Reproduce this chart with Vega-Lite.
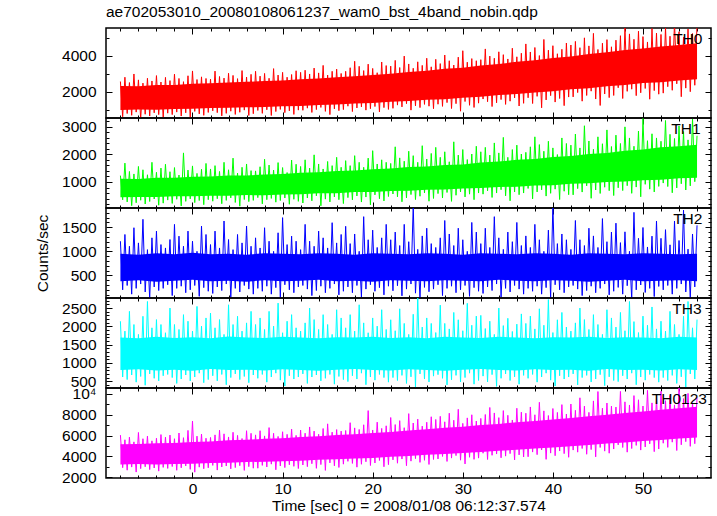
{
"$schema": "https://vega.github.io/schema/vega-lite/v6.json",
"padding": {"left": 34, "top": 5, "right": 5, "bottom": 5},
"bounds": "flush",
"spacing": 0,
"title": {"text": "ae702053010_20080108061237_wam0_bst_4band_nobin.qdp", "anchor": "start", "frame": "group", "fontSize": 15.5, "fontWeight": "normal", "font": "Liberation Sans", "color": "#000", "offset": 6},
"config": {
  "view": {"stroke": "#000", "strokeWidth": 1.5},
  "concat": {"spacing": 0},
  "axis": {"domain": false, "grid": false, "tickColor": "#000", "tickWidth": 1, "labelFont": "Liberation Sans", "labelFontSize": 15.5, "labelColor": "#000", "titleFont": "Liberation Sans", "titleFontSize": 15.5, "titleFontWeight": "normal", "titleColor": "#000", "labelFlush": false, "labelOverlap": false, "labelBound": false, "minExtent": 0}
},
"datasets": {
"lc": [
{"t":-8,"TH0":2570,"TH1":1230,"TH2":1210,"TH3":2140,"TH0123":6050},
{"t":-7.75,"TH0":600,"TH1":355,"TH2":200,"TH3":615,"TH0123":2920},
{"t":-7.5,"TH0":2810,"TH1":1680,"TH2":1350,"TH3":1870,"TH0123":5600},
{"t":-7.25,"TH0":780,"TH1":280,"TH2":290,"TH3":545,"TH0123":2680},
{"t":-7,"TH0":2510,"TH1":1380,"TH2":1105,"TH3":2410,"TH0123":5850},
{"t":-6.75,"TH0":680,"TH1":145,"TH2":110,"TH3":670,"TH0123":2980},
{"t":-6.5,"TH0":2990,"TH1":1290,"TH2":1490,"TH3":2050,"TH0123":5400},
{"t":-6.25,"TH0":860,"TH1":250,"TH2":230,"TH3":475,"TH0123":2500},
{"t":-6,"TH0":2660,"TH1":1560,"TH2":1175,"TH3":1780,"TH0123":6300},
{"t":-5.75,"TH0":500,"TH1":340,"TH2":320,"TH3":630,"TH0123":2830},
{"t":-5.5,"TH0":2480,"TH1":1440,"TH2":1665,"TH3":2275,"TH0123":5700},
{"t":-5.25,"TH0":740,"TH1":205,"TH2":155,"TH3":390,"TH0123":3010},
{"t":-5,"TH0":2750,"TH1":1260,"TH2":1035,"TH3":2680,"TH0123":5950},
{"t":-4.75,"TH0":640,"TH1":295,"TH2":20,"TH3":700,"TH0123":2740},
{"t":-4.5,"TH0":2600,"TH1":1710,"TH2":1280,"TH3":1960,"TH0123":5500},
{"t":-4.25,"TH0":820,"TH1":385,"TH2":260,"TH3":580,"TH0123":2890},
{"t":-4,"TH0":2900,"TH1":1350,"TH2":1420,"TH3":2185,"TH0123":5750},
{"t":-3.75,"TH0":720,"TH1":160,"TH2":185,"TH3":510,"TH0123":2590},
{"t":-3.5,"TH0":2540,"TH1":1500,"TH2":1140,"TH3":2050,"TH0123":6100},
{"t":-3.25,"TH0":580,"TH1":235,"TH2":230,"TH3":650,"TH0123":2950},
{"t":-3,"TH0":2800,"TH1":1640,"TH2":1070,"TH3":1825,"TH0123":5850},
{"t":-2.75,"TH0":800,"TH1":345,"TH2":305,"TH3":685,"TH0123":2850},
{"t":-2.5,"TH0":2620,"TH1":1370,"TH2":1245,"TH3":2500,"TH0123":6050},
{"t":-2.25,"TH0":720,"TH1":225,"TH2":80,"TH3":600,"TH0123":3030},
{"t":-2,"TH0":2980,"TH1":1520,"TH2":1560,"TH3":2050,"TH0123":5700},
{"t":-1.75,"TH0":860,"TH1":375,"TH2":230,"TH3":440,"TH0123":2670},
{"t":-1.5,"TH0":2740,"TH1":1250,"TH2":1315,"TH3":1915,"TH0123":6250},
{"t":-1.25,"TH0":640,"TH1":135,"TH2":275,"TH3":560,"TH0123":2910},
{"t":-1,"TH0":2560,"TH1":2050,"TH2":1105,"TH3":2320,"TH0123":5800},
{"t":-0.75,"TH0":820,"TH1":300,"TH2":140,"TH3":670,"TH0123":3090},
{"t":-0.5,"TH0":2890,"TH1":1430,"TH2":1420,"TH3":2140,"TH0123":6500},
{"t":-0.25,"TH0":540,"TH1":390,"TH2":200,"TH3":510,"TH0123":2760},
{"t":0,"TH0":3160,"TH1":1580,"TH2":1210,"TH3":1870,"TH0123":7400},
{"t":0.25,"TH0":900,"TH1":255,"TH2":290,"TH3":615,"TH0123":2490},
{"t":0.5,"TH0":2680,"TH1":1310,"TH2":1000,"TH3":2545,"TH0123":5950},
{"t":0.75,"TH0":760,"TH1":330,"TH2":65,"TH3":720,"TH0123":2970},
{"t":1,"TH0":2830,"TH1":1460,"TH2":1525,"TH3":2005,"TH0123":6150},
{"t":1.25,"TH0":680,"TH1":180,"TH2":245,"TH3":460,"TH0123":2820},
{"t":1.5,"TH0":2740,"TH1":1670,"TH2":1350,"TH3":2230,"TH0123":5750},
{"t":1.75,"TH0":840,"TH1":360,"TH2":170,"TH3":545,"TH0123":2910},
{"t":2,"TH0":2700,"TH1":1470,"TH2":1140,"TH3":2365,"TH0123":5820},
{"t":2.25,"TH0":930,"TH1":305,"TH2":125,"TH3":650,"TH0123":3140},
{"t":2.5,"TH0":3150,"TH1":1590,"TH2":1420,"TH3":1960,"TH0123":6070},
{"t":2.75,"TH0":830,"TH1":395,"TH2":260,"TH3":510,"TH0123":2690},
{"t":3,"TH0":2850,"TH1":1380,"TH2":1070,"TH3":2185,"TH0123":6520},
{"t":3.25,"TH0":650,"TH1":215,"TH2":185,"TH3":685,"TH0123":2990},
{"t":3.5,"TH0":2760,"TH1":1710,"TH2":1630,"TH3":1780,"TH0123":6170},
{"t":3.75,"TH0":790,"TH1":335,"TH2":320,"TH3":405,"TH0123":3080},
{"t":4,"TH0":3030,"TH1":1440,"TH2":1245,"TH3":2590,"TH0123":5870},
{"t":4.25,"TH0":910,"TH1":425,"TH2":50,"TH3":600,"TH0123":2810},
{"t":4.5,"TH0":2910,"TH1":1860,"TH2":1035,"TH3":2050,"TH0123":6320},
{"t":4.75,"TH0":730,"TH1":260,"TH2":230,"TH3":700,"TH0123":2930},
{"t":5,"TH0":2730,"TH1":1320,"TH2":1350,"TH3":2275,"TH0123":6020},
{"t":5.25,"TH0":850,"TH1":125,"TH2":155,"TH3":545,"TH0123":3110},
{"t":5.5,"TH0":3180,"TH1":1530,"TH2":1175,"TH3":1870,"TH0123":5720},
{"t":5.75,"TH0":970,"TH1":365,"TH2":290,"TH3":630,"TH0123":2660},
{"t":6,"TH0":2820,"TH1":1650,"TH2":1525,"TH3":2095,"TH0123":6470},
{"t":6.25,"TH0":670,"TH1":290,"TH2":215,"TH3":460,"TH0123":3020},
{"t":6.5,"TH0":2970,"TH1":1410,"TH2":1105,"TH3":2410,"TH0123":6220},
{"t":6.75,"TH0":770,"TH1":335,"TH2":110,"TH3":670,"TH0123":2870},
{"t":7,"TH0":3140,"TH1":1400,"TH2":1280,"TH3":2050,"TH0123":6070},
{"t":7.25,"TH0":950,"TH1":435,"TH2":230,"TH3":580,"TH0123":2870},
{"t":7.5,"TH0":2870,"TH1":1550,"TH2":1070,"TH3":2230,"TH0123":6470},
{"t":7.75,"TH0":790,"TH1":210,"TH2":170,"TH3":685,"TH0123":3140},
{"t":8,"TH0":3020,"TH1":1820,"TH2":1490,"TH3":1915,"TH0123":5970},
{"t":8.25,"TH0":990,"TH1":360,"TH2":275,"TH3":475,"TH0123":2990},
{"t":8.5,"TH0":2750,"TH1":1610,"TH2":1210,"TH3":2410,"TH0123":6770},
{"t":8.75,"TH0":670,"TH1":405,"TH2":110,"TH3":615,"TH0123":3260},
{"t":9,"TH0":3290,"TH1":1430,"TH2":1000,"TH3":2005,"TH0123":6220},
{"t":9.25,"TH0":890,"TH1":270,"TH2":245,"TH3":720,"TH0123":2720},
{"t":9.5,"TH0":2930,"TH1":1700,"TH2":1385,"TH3":2635,"TH0123":5920},
{"t":9.75,"TH0":1010,"TH1":330,"TH2":35,"TH3":530,"TH0123":3080},
{"t":10,"TH0":3080,"TH1":1520,"TH2":1700,"TH3":1825,"TH0123":6370},
{"t":10.25,"TH0":830,"TH1":420,"TH2":305,"TH3":370,"TH0123":2930},
{"t":10.5,"TH0":2810,"TH1":1340,"TH2":1140,"TH3":2140,"TH0123":6120},
{"t":10.75,"TH0":930,"TH1":195,"TH2":200,"TH3":650,"TH0123":3200},
{"t":11,"TH0":2960,"TH1":1790,"TH2":1315,"TH3":2320,"TH0123":6620},
{"t":11.25,"TH0":730,"TH1":375,"TH2":140,"TH3":560,"TH0123":3050},
{"t":11.5,"TH0":3170,"TH1":1640,"TH2":1210,"TH3":1960,"TH0123":6020},
{"t":11.75,"TH0":970,"TH1":300,"TH2":260,"TH3":615,"TH0123":2840},
{"t":12,"TH0":3080,"TH1":1560,"TH2":1035,"TH3":1870,"TH0123":6530},
{"t":12.25,"TH0":960,"TH1":240,"TH2":290,"TH3":700,"TH0123":3180},
{"t":12.5,"TH0":3200,"TH1":1800,"TH2":1560,"TH3":2095,"TH0123":6230},
{"t":12.75,"TH0":1080,"TH1":420,"TH2":215,"TH3":440,"TH0123":3020},
{"t":13,"TH0":2990,"TH1":1500,"TH2":1210,"TH3":2500,"TH0123":6830},
{"t":13.25,"TH0":840,"TH1":320,"TH2":80,"TH3":615,"TH0123":3300},
{"t":13.5,"TH0":3320,"TH1":1980,"TH2":1105,"TH3":2185,"TH0123":6430},
{"t":13.75,"TH0":1000,"TH1":500,"TH2":185,"TH3":670,"TH0123":2860},
{"t":14,"TH0":3050,"TH1":1650,"TH2":1420,"TH3":1915,"TH0123":6130},
{"t":14.25,"TH0":1120,"TH1":140,"TH2":275,"TH3":510,"TH0123":3220},
{"t":14.5,"TH0":3470,"TH1":1470,"TH2":1280,"TH3":2320,"TH0123":6680},
{"t":14.75,"TH0":900,"TH1":380,"TH2":140,"TH3":580,"TH0123":2660},
{"t":15,"TH0":2930,"TH1":1740,"TH2":1070,"TH3":2050,"TH0123":7130},
{"t":15.25,"TH0":720,"TH1":280,"TH2":230,"TH3":685,"TH0123":3380},
{"t":15.5,"TH0":3140,"TH1":1590,"TH2":1595,"TH3":1780,"TH0123":6330},
{"t":15.75,"TH0":1040,"TH1":460,"TH2":320,"TH3":420,"TH0123":3100},
{"t":16,"TH0":3260,"TH1":1890,"TH2":1175,"TH3":2455,"TH0123":6580},
{"t":16.25,"TH0":940,"TH1":360,"TH2":95,"TH3":630,"TH0123":2940},
{"t":16.5,"TH0":3020,"TH1":1530,"TH2":1350,"TH3":2230,"TH0123":6430},
{"t":16.75,"TH0":1000,"TH1":220,"TH2":170,"TH3":545,"TH0123":3260},
{"t":17,"TH0":3140,"TH1":1770,"TH2":1520,"TH3":1960,"TH0123":6490},
{"t":17.25,"TH0":1190,"TH1":435,"TH2":260,"TH3":490,"TH0123":3530},
{"t":17.5,"TH0":3340,"TH1":1590,"TH2":1160,"TH3":2320,"TH0123":7240},
{"t":17.75,"TH0":890,"TH1":355,"TH2":140,"TH3":650,"TH0123":3330},
{"t":18,"TH0":3700,"TH1":1950,"TH2":1360,"TH3":1870,"TH0123":6740},
{"t":18.25,"TH0":1090,"TH1":495,"TH2":290,"TH3":560,"TH0123":2970},
{"t":18.5,"TH0":3420,"TH1":1710,"TH2":1000,"TH3":2590,"TH0123":6590},
{"t":18.75,"TH0":1150,"TH1":275,"TH2":50,"TH3":720,"TH0123":3250},
{"t":19,"TH0":3180,"TH1":1530,"TH2":1720,"TH3":2095,"TH0123":7040},
{"t":19.25,"TH0":970,"TH1":455,"TH2":215,"TH3":405,"TH0123":3490},
{"t":19.5,"TH0":3540,"TH1":1860,"TH2":1240,"TH3":1825,"TH0123":8400},
{"t":19.75,"TH0":1050,"TH1":175,"TH2":305,"TH3":615,"TH0123":3130},
{"t":20,"TH0":3300,"TH1":2130,"TH2":1440,"TH3":2230,"TH0123":6540},
{"t":20.25,"TH0":1170,"TH1":535,"TH2":170,"TH3":530,"TH0123":3370},
{"t":20.5,"TH0":3060,"TH1":1650,"TH2":1080,"TH3":2005,"TH0123":7290},
{"t":20.75,"TH0":870,"TH1":395,"TH2":245,"TH3":685,"TH0123":3610},
{"t":21,"TH0":3660,"TH1":1800,"TH2":1280,"TH3":2455,"TH0123":6690},
{"t":21.25,"TH0":1110,"TH1":315,"TH2":95,"TH3":600,"TH0123":3010},
{"t":21.5,"TH0":3460,"TH1":1710,"TH2":1560,"TH3":1915,"TH0123":6940},
{"t":21.75,"TH0":1010,"TH1":475,"TH2":275,"TH3":475,"TH0123":3210},
{"t":22,"TH0":3430,"TH1":1670,"TH2":1240,"TH3":2180,"TH0123":7735},
{"t":22.25,"TH0":1070,"TH1":565,"TH2":180,"TH3":600,"TH0123":3670},
{"t":22.5,"TH0":3750,"TH1":2270,"TH2":1400,"TH3":1880,"TH0123":7060},
{"t":22.75,"TH0":1250,"TH1":465,"TH2":285,"TH3":520,"TH0123":3350},
{"t":23,"TH0":3350,"TH1":1870,"TH2":1120,"TH3":2480,"TH0123":7435},
{"t":23.25,"TH0":1150,"TH1":285,"TH2":75,"TH3":660,"TH0123":3750},
{"t":23.5,"TH0":3990,"TH1":1750,"TH2":1560,"TH3":2080,"TH0123":6760},
{"t":23.75,"TH0":1330,"TH1":425,"TH2":215,"TH3":440,"TH0123":3110},
{"t":24,"TH0":3550,"TH1":2110,"TH2":1200,"TH3":1780,"TH0123":8110},
{"t":24.25,"TH0":970,"TH1":545,"TH2":320,"TH3":620,"TH0123":3550},
{"t":24.5,"TH0":3310,"TH1":1950,"TH2":1950,"TH3":2330,"TH0123":7210},
{"t":24.75,"TH0":1210,"TH1":365,"TH2":130,"TH3":340,"TH0123":3790},
{"t":25,"TH0":3670,"TH1":1710,"TH2":1040,"TH3":2780,"TH0123":7585},
{"t":25.25,"TH0":1110,"TH1":485,"TH2":10,"TH3":700,"TH0123":3430},
{"t":25.5,"TH0":3470,"TH1":2310,"TH2":1320,"TH3":1980,"TH0123":6910},
{"t":25.75,"TH0":1290,"TH1":605,"TH2":250,"TH3":560,"TH0123":3630},
{"t":26,"TH0":3870,"TH1":1830,"TH2":1480,"TH3":2230,"TH0123":7285},
{"t":26.25,"TH0":1190,"TH1":305,"TH2":160,"TH3":480,"TH0123":3230},
{"t":26.5,"TH0":3390,"TH1":2030,"TH2":1160,"TH3":2080,"TH0123":7810},
{"t":26.75,"TH0":1050,"TH1":405,"TH2":215,"TH3":640,"TH0123":3710},
{"t":27,"TH0":3810,"TH1":2250,"TH2":1080,"TH3":1830,"TH0123":7550},
{"t":27.25,"TH0":1300,"TH1":580,"TH2":305,"TH3":680,"TH0123":3760},
{"t":27.5,"TH0":3570,"TH1":1890,"TH2":1280,"TH3":2580,"TH0123":7850},
{"t":27.75,"TH0":1180,"TH1":420,"TH2":80,"TH3":580,"TH0123":4000},
{"t":28,"TH0":4050,"TH1":2090,"TH2":1640,"TH3":2080,"TH0123":7325},
{"t":28.25,"TH0":1390,"TH1":620,"TH2":230,"TH3":400,"TH0123":3520},
{"t":28.5,"TH0":3730,"TH1":1730,"TH2":1360,"TH3":1930,"TH0123":8150},
{"t":28.75,"TH0":1060,"TH1":300,"TH2":275,"TH3":540,"TH0123":3840},
{"t":29,"TH0":3490,"TH1":2450,"TH2":1120,"TH3":2380,"TH0123":7475},
{"t":29.25,"TH0":1330,"TH1":520,"TH2":140,"TH3":660,"TH0123":4080},
{"t":29.5,"TH0":3930,"TH1":1970,"TH2":1480,"TH3":2180,"TH0123":8525},
{"t":29.75,"TH0":910,"TH1":640,"TH2":200,"TH3":480,"TH0123":3640},
{"t":30,"TH0":4290,"TH1":2170,"TH2":1240,"TH3":1880,"TH0123":7175},
{"t":30.25,"TH0":1450,"TH1":460,"TH2":290,"TH3":600,"TH0123":3280},
{"t":30.5,"TH0":3650,"TH1":1810,"TH2":1000,"TH3":2630,"TH0123":7700},
{"t":30.75,"TH0":1240,"TH1":560,"TH2":65,"TH3":720,"TH0123":3920},
{"t":31,"TH0":3850,"TH1":2010,"TH2":1600,"TH3":2030,"TH0123":8000},
{"t":31.25,"TH0":1120,"TH1":360,"TH2":245,"TH3":420,"TH0123":3720},
{"t":31.5,"TH0":3730,"TH1":2290,"TH2":1400,"TH3":2280,"TH0123":7400},
{"t":31.75,"TH0":1360,"TH1":600,"TH2":170,"TH3":520,"TH0123":3840},
{"t":32,"TH0":3790,"TH1":2090,"TH2":1160,"TH3":2300,"TH0123":7650},
{"t":32.25,"TH0":1590,"TH1":560,"TH2":125,"TH3":640,"TH0123":4310},
{"t":32.5,"TH0":4390,"TH1":2250,"TH2":1480,"TH3":1940,"TH0123":8025},
{"t":32.75,"TH0":1440,"TH1":680,"TH2":260,"TH3":480,"TH0123":3710},
{"t":33,"TH0":3990,"TH1":1970,"TH2":1080,"TH3":2140,"TH0123":8700},
{"t":33.25,"TH0":1170,"TH1":440,"TH2":185,"TH3":680,"TH0123":4110},
{"t":33.5,"TH0":3870,"TH1":2410,"TH2":1720,"TH3":1780,"TH0123":8175},
{"t":33.75,"TH0":1380,"TH1":600,"TH2":320,"TH3":360,"TH0123":4230},
{"t":34,"TH0":4230,"TH1":2050,"TH2":1280,"TH3":2500,"TH0123":7725},
{"t":34.25,"TH0":1560,"TH1":720,"TH2":50,"TH3":580,"TH0123":3870},
{"t":34.5,"TH0":4070,"TH1":2610,"TH2":1040,"TH3":2020,"TH0123":8400},
{"t":34.75,"TH0":1290,"TH1":500,"TH2":230,"TH3":700,"TH0123":4030},
{"t":35,"TH0":3830,"TH1":1890,"TH2":1400,"TH3":2220,"TH0123":7950},
{"t":35.25,"TH0":1470,"TH1":320,"TH2":155,"TH3":520,"TH0123":4270},
{"t":35.5,"TH0":4430,"TH1":2170,"TH2":1200,"TH3":1860,"TH0123":7500},
{"t":35.75,"TH0":1650,"TH1":640,"TH2":290,"TH3":620,"TH0123":3670},
{"t":36,"TH0":3950,"TH1":2330,"TH2":1600,"TH3":2060,"TH0123":8625},
{"t":36.25,"TH0":1200,"TH1":540,"TH2":215,"TH3":420,"TH0123":4150},
{"t":36.5,"TH0":4150,"TH1":2010,"TH2":1120,"TH3":2340,"TH0123":8250},
{"t":36.75,"TH0":1350,"TH1":600,"TH2":110,"TH3":660,"TH0123":3950},
{"t":37,"TH0":4670,"TH1":2070,"TH2":1320,"TH3":2080,"TH0123":8150},
{"t":37.25,"TH0":1660,"TH1":765,"TH2":230,"TH3":580,"TH0123":3970},
{"t":37.5,"TH0":4220,"TH1":2270,"TH2":1080,"TH3":2280,"TH0123":8750},
{"t":37.75,"TH0":1340,"TH1":390,"TH2":170,"TH3":685,"TH0123":4420},
{"t":38,"TH0":4470,"TH1":2630,"TH2":1560,"TH3":1930,"TH0123":8000},
{"t":38.25,"TH0":1740,"TH1":640,"TH2":275,"TH3":475,"TH0123":4170},
{"t":38.5,"TH0":4020,"TH1":2350,"TH2":1240,"TH3":2480,"TH0123":9200},
{"t":38.75,"TH0":1100,"TH1":715,"TH2":110,"TH3":615,"TH0123":4620},
{"t":39,"TH0":4920,"TH1":2110,"TH2":1000,"TH3":2030,"TH0123":8375},
{"t":39.25,"TH0":1540,"TH1":490,"TH2":245,"TH3":720,"TH0123":3720},
{"t":39.5,"TH0":4320,"TH1":2470,"TH2":1440,"TH3":2730,"TH0123":7925},
{"t":39.75,"TH0":1780,"TH1":590,"TH2":35,"TH3":530,"TH0123":4320},
{"t":40,"TH0":4570,"TH1":2230,"TH2":1950,"TH3":1830,"TH0123":8600},
{"t":40.25,"TH0":1420,"TH1":740,"TH2":305,"TH3":370,"TH0123":4070},
{"t":40.5,"TH0":4120,"TH1":1990,"TH2":1160,"TH3":2180,"TH0123":8225},
{"t":40.75,"TH0":1620,"TH1":365,"TH2":200,"TH3":650,"TH0123":4520},
{"t":41,"TH0":4370,"TH1":2590,"TH2":1360,"TH3":2380,"TH0123":8975},
{"t":41.25,"TH0":1220,"TH1":665,"TH2":140,"TH3":560,"TH0123":4270},
{"t":41.5,"TH0":4720,"TH1":2390,"TH2":1240,"TH3":1980,"TH0123":8075},
{"t":41.75,"TH0":1700,"TH1":540,"TH2":260,"TH3":615,"TH0123":3920},
{"t":42,"TH0":4610,"TH1":2330,"TH2":1040,"TH3":1870,"TH0123":9030},
{"t":42.25,"TH0":1710,"TH1":535,"TH2":290,"TH3":700,"TH0123":4610},
{"t":42.5,"TH0":4810,"TH1":2730,"TH2":1640,"TH3":2095,"TH0123":8430},
{"t":42.75,"TH0":1950,"TH1":760,"TH2":215,"TH3":400,"TH0123":4410},
{"t":43,"TH0":4460,"TH1":2230,"TH2":1240,"TH3":2500,"TH0123":9630},
{"t":43.25,"TH0":1470,"TH1":635,"TH2":80,"TH3":600,"TH0123":4760},
{"t":43.5,"TH0":5010,"TH1":3030,"TH2":1120,"TH3":2185,"TH0123":8830},
{"t":43.75,"TH0":1790,"TH1":860,"TH2":185,"TH3":660,"TH0123":4210},
{"t":44,"TH0":4560,"TH1":2480,"TH2":1480,"TH3":1915,"TH0123":8230},
{"t":44.25,"TH0":2030,"TH1":410,"TH2":275,"TH3":480,"TH0123":4660},
{"t":44.5,"TH0":5260,"TH1":2180,"TH2":1320,"TH3":2320,"TH0123":9330},
{"t":44.75,"TH0":1590,"TH1":710,"TH2":140,"TH3":560,"TH0123":3960},
{"t":45,"TH0":4360,"TH1":2630,"TH2":1080,"TH3":2050,"TH0123":10230},
{"t":45.25,"TH0":1230,"TH1":585,"TH2":230,"TH3":680,"TH0123":4860},
{"t":45.5,"TH0":4710,"TH1":2380,"TH2":1680,"TH3":1780,"TH0123":8630},
{"t":45.75,"TH0":1870,"TH1":810,"TH2":320,"TH3":380,"TH0123":4510},
{"t":46,"TH0":4910,"TH1":2880,"TH2":1200,"TH3":2455,"TH0123":9130},
{"t":46.25,"TH0":1670,"TH1":685,"TH2":95,"TH3":620,"TH0123":4310},
{"t":46.5,"TH0":4510,"TH1":2280,"TH2":1400,"TH3":2230,"TH0123":8830},
{"t":46.75,"TH0":1790,"TH1":510,"TH2":170,"TH3":520,"TH0123":4710},
{"t":47,"TH0":4880,"TH1":2690,"TH2":1585,"TH3":1980,"TH0123":8740},
{"t":47.25,"TH0":2220,"TH1":790,"TH2":250,"TH3":490,"TH0123":5110},
{"t":47.5,"TH0":5130,"TH1":2390,"TH2":1180,"TH3":2380,"TH0123":10240},
{"t":47.75,"TH0":1620,"TH1":690,"TH2":110,"TH3":650,"TH0123":4860},
{"t":48,"TH0":5580,"TH1":2990,"TH2":1405,"TH3":1880,"TH0123":9240},
{"t":48.25,"TH0":2020,"TH1":865,"TH2":285,"TH3":560,"TH0123":4410},
{"t":48.5,"TH0":5230,"TH1":2590,"TH2":1000,"TH3":2680,"TH0123":8940},
{"t":48.75,"TH0":2140,"TH1":590,"TH2":5,"TH3":720,"TH0123":4760},
{"t":49,"TH0":4930,"TH1":2290,"TH2":1810,"TH3":2130,"TH0123":9840},
{"t":49.25,"TH0":1780,"TH1":815,"TH2":200,"TH3":405,"TH0123":5060},
{"t":49.5,"TH0":5380,"TH1":2840,"TH2":1270,"TH3":1830,"TH0123":9440},
{"t":49.75,"TH0":1940,"TH1":465,"TH2":300,"TH3":615,"TH0123":4610},
{"t":50,"TH0":5080,"TH1":3290,"TH2":1495,"TH3":2280,"TH0123":8840},
{"t":50.25,"TH0":2180,"TH1":915,"TH2":145,"TH3":530,"TH0123":4910},
{"t":50.5,"TH0":4780,"TH1":2490,"TH2":1090,"TH3":2030,"TH0123":10340},
{"t":50.75,"TH0":1580,"TH1":740,"TH2":230,"TH3":685,"TH0123":5210},
{"t":51,"TH0":5530,"TH1":2740,"TH2":1315,"TH3":2530,"TH0123":9140},
{"t":51.25,"TH0":2060,"TH1":640,"TH2":60,"TH3":600,"TH0123":4460},
{"t":51.5,"TH0":5280,"TH1":2590,"TH2":1630,"TH3":1930,"TH0123":9640},
{"t":51.75,"TH0":1860,"TH1":840,"TH2":270,"TH3":475,"TH0123":4710},
{"t":52,"TH0":5200,"TH1":2470,"TH2":1270,"TH3":2140,"TH0123":10250},
{"t":52.25,"TH0":1920,"TH1":960,"TH2":200,"TH3":600,"TH0123":5270},
{"t":52.5,"TH0":5600,"TH1":3220,"TH2":1450,"TH3":1870,"TH0123":9350},
{"t":52.75,"TH0":2280,"TH1":835,"TH2":290,"TH3":520,"TH0123":4870},
{"t":53,"TH0":5100,"TH1":2720,"TH2":1135,"TH3":2410,"TH0123":9850},
{"t":53.25,"TH0":2080,"TH1":610,"TH2":110,"TH3":660,"TH0123":5370},
{"t":53.5,"TH0":5900,"TH1":2570,"TH2":1630,"TH3":2050,"TH0123":8950},
{"t":53.75,"TH0":2440,"TH1":785,"TH2":230,"TH3":440,"TH0123":4570},
{"t":54,"TH0":5350,"TH1":3020,"TH2":1225,"TH3":1780,"TH0123":10750},
{"t":54.25,"TH0":1720,"TH1":935,"TH2":320,"TH3":620,"TH0123":5120},
{"t":54.5,"TH0":5050,"TH1":2820,"TH2":1855,"TH3":2275,"TH0123":9550},
{"t":54.75,"TH0":2200,"TH1":710,"TH2":155,"TH3":340,"TH0123":5420},
{"t":55,"TH0":5500,"TH1":2520,"TH2":1045,"TH3":2680,"TH0123":10050},
{"t":55.25,"TH0":2000,"TH1":860,"TH2":20,"TH3":700,"TH0123":4970},
{"t":55.5,"TH0":5250,"TH1":3270,"TH2":1360,"TH3":1960,"TH0123":9150},
{"t":55.75,"TH0":2360,"TH1":1010,"TH2":260,"TH3":560,"TH0123":5220},
{"t":56,"TH0":5750,"TH1":2670,"TH2":1540,"TH3":2185,"TH0123":9650}
],
"band": [
{"t":-8,"TH0lo":980,"TH0hi":2320,"TH1lo":445,"TH1hi":1115,"TH2lo":380,"TH2hi":950,"TH3lo":805,"TH3hi":1695,"TH0123lo":3235,"TH0123hi":5165},
{"t":-6,"TH0lo":1000,"TH0hi":2310,"TH1lo":460,"TH1hi":1110,"TH2lo":400,"TH2hi":930,"TH3lo":825,"TH3hi":1675,"TH0123lo":3265,"TH0123hi":5205},
{"t":-4,"TH0lo":990,"TH0hi":2370,"TH1lo":455,"TH1hi":1155,"TH2lo":370,"TH2hi":960,"TH3lo":795,"TH3hi":1715,"TH0123lo":3225,"TH0123hi":5255},
{"t":-2,"TH0lo":1040,"TH0hi":2380,"TH1lo":485,"TH1hi":1155,"TH2lo":390,"TH2hi":940,"TH3lo":815,"TH3hi":1685,"TH0123lo":3280,"TH0123hi":5280},
{"t":0,"TH0lo":1050,"TH0hi":2450,"TH1lo":480,"TH1hi":1190,"TH2lo":410,"TH2hi":970,"TH3lo":785,"TH3hi":1705,"TH0123lo":3310,"TH0123hi":5390},
{"t":2,"TH0lo":1090,"TH0hi":2470,"TH1lo":505,"TH1hi":1195,"TH2lo":380,"TH2hi":940,"TH3lo":835,"TH3hi":1675,"TH0123lo":3375,"TH0123hi":5445},
{"t":4,"TH0lo":1100,"TH0hi":2520,"TH1lo":500,"TH1hi":1230,"TH2lo":390,"TH2hi":950,"TH3lo":805,"TH3hi":1725,"TH0123lo":3395,"TH0123hi":5545},
{"t":6,"TH0lo":1130,"TH0hi":2550,"TH1lo":525,"TH1hi":1235,"TH2lo":370,"TH2hi":930,"TH3lo":815,"TH3hi":1695,"TH0123lo":3465,"TH0123hi":5595},
{"t":8,"TH0lo":1140,"TH0hi":2600,"TH1lo":520,"TH1hi":1270,"TH2lo":400,"TH2hi":960,"TH3lo":795,"TH3hi":1685,"TH0123lo":3490,"TH0123hi":5690},
{"t":10,"TH0lo":1180,"TH0hi":2620,"TH1lo":550,"TH1hi":1290,"TH2lo":380,"TH2hi":950,"TH3lo":825,"TH3hi":1715,"TH0123lo":3550,"TH0123hi":5750},
{"t":12,"TH0lo":1200,"TH0hi":2700,"TH1lo":555,"TH1hi":1335,"TH2lo":390,"TH2hi":940,"TH3lo":805,"TH3hi":1695,"TH0123lo":3595,"TH0123hi":5865},
{"t":14,"TH0lo":1260,"TH0hi":2740,"TH1lo":590,"TH1hi":1350,"TH2lo":410,"TH2hi":960,"TH3lo":785,"TH3hi":1675,"TH0123lo":3675,"TH0123hi":5935},
{"t":16,"TH0lo":1290,"TH0hi":2810,"TH1lo":595,"TH1hi":1395,"TH2lo":380,"TH2hi":950,"TH3lo":815,"TH3hi":1705,"TH0123lo":3720,"TH0123hi":6060},
{"t":18,"TH0lo":1340,"TH0hi":2860,"TH1lo":635,"TH1hi":1415,"TH2lo":390,"TH2hi":930,"TH3lo":835,"TH3hi":1695,"TH0123lo":3810,"TH0123hi":6130},
{"t":20,"TH0lo":1370,"TH0hi":2930,"TH1lo":640,"TH1hi":1460,"TH2lo":370,"TH2hi":960,"TH3lo":805,"TH3hi":1715,"TH0123lo":3860,"TH0123hi":6240},
{"t":22,"TH0lo":1440,"TH0hi":3000,"TH1lo":675,"TH1hi":1485,"TH2lo":400,"TH2hi":950,"TH3lo":795,"TH3hi":1685,"TH0123lo":3965,"TH0123hi":6355},
{"t":24,"TH0lo":1480,"TH0hi":3100,"TH1lo":680,"TH1hi":1540,"TH2lo":390,"TH2hi":940,"TH3lo":825,"TH3hi":1705,"TH0123lo":4045,"TH0123hi":6495},
{"t":26,"TH0lo":1550,"TH0hi":3170,"TH1lo":720,"TH1hi":1560,"TH2lo":380,"TH2hi":960,"TH3lo":805,"TH3hi":1675,"TH0123lo":4155,"TH0123hi":6605},
{"t":28,"TH0lo":1580,"TH0hi":3280,"TH1lo":725,"TH1hi":1615,"TH2lo":400,"TH2hi":950,"TH3lo":785,"TH3hi":1715,"TH0123lo":4230,"TH0123hi":6750},
{"t":30,"TH0lo":1660,"TH0hi":3340,"TH1lo":765,"TH1hi":1635,"TH2lo":390,"TH2hi":930,"TH3lo":815,"TH3hi":1695,"TH0123lo":4340,"TH0123hi":6850},
{"t":32,"TH0lo":1720,"TH0hi":3460,"TH1lo":780,"TH1hi":1700,"TH2lo":380,"TH2hi":960,"TH3lo":835,"TH3hi":1685,"TH0123lo":4425,"TH0123hi":7015},
{"t":34,"TH0lo":1810,"TH0hi":3550,"TH1lo":815,"TH1hi":1735,"TH2lo":410,"TH2hi":950,"TH3lo":805,"TH3hi":1715,"TH0123lo":4555,"TH0123hi":7125},
{"t":36,"TH0lo":1870,"TH0hi":3670,"TH1lo":830,"TH1hi":1800,"TH2lo":390,"TH2hi":940,"TH3lo":795,"TH3hi":1695,"TH0123lo":4635,"TH0123hi":7285},
{"t":38,"TH0lo":1960,"TH0hi":3760,"TH1lo":870,"TH1hi":1830,"TH2lo":380,"TH2hi":960,"TH3lo":825,"TH3hi":1675,"TH0123lo":4760,"TH0123hi":7400},
{"t":40,"TH0lo":2020,"TH0hi":3880,"TH1lo":885,"TH1hi":1905,"TH2lo":400,"TH2hi":950,"TH3lo":805,"TH3hi":1705,"TH0123lo":4850,"TH0123hi":7550},
{"t":42,"TH0lo":2130,"TH0hi":3970,"TH1lo":935,"TH1hi":1935,"TH2lo":390,"TH2hi":930,"TH3lo":815,"TH3hi":1695,"TH0123lo":4990,"TH0123hi":7690},
{"t":44,"TH0lo":2190,"TH0hi":4110,"TH1lo":950,"TH1hi":2010,"TH2lo":370,"TH2hi":960,"TH3lo":785,"TH3hi":1715,"TH0123lo":5095,"TH0123hi":7865},
{"t":46,"TH0lo":2300,"TH0hi":4200,"TH1lo":1000,"TH1hi":2050,"TH2lo":390,"TH2hi":950,"TH3lo":835,"TH3hi":1685,"TH0123lo":5235,"TH0123hi":7995},
{"t":48,"TH0lo":2370,"TH0hi":4330,"TH1lo":1015,"TH1hi":2125,"TH2lo":410,"TH2hi":940,"TH3lo":805,"TH3hi":1705,"TH0123lo":5340,"TH0123hi":8180},
{"t":50,"TH0lo":2480,"TH0hi":4420,"TH1lo":1065,"TH1hi":2175,"TH2lo":380,"TH2hi":960,"TH3lo":815,"TH3hi":1695,"TH0123lo":5480,"TH0123hi":8310},
{"t":52,"TH0lo":2530,"TH0hi":4530,"TH1lo":1080,"TH1hi":2250,"TH2lo":390,"TH2hi":950,"TH3lo":795,"TH3hi":1675,"TH0123lo":5585,"TH0123hi":8485},
{"t":54,"TH0lo":2630,"TH0hi":4610,"TH1lo":1130,"TH1hi":2290,"TH2lo":400,"TH2hi":940,"TH3lo":825,"TH3hi":1715,"TH0123lo":5725,"TH0123hi":8615},
{"t":56,"TH0lo":2690,"TH0hi":4710,"TH1lo":1155,"TH1hi":2345,"TH2lo":380,"TH2hi":950,"TH3lo":805,"TH3hi":1695,"TH0123lo":5830,"TH0123hi":8770}
]
},
"vconcat": [
{
 "width": 605, "height": 90,
 "resolve": {"axis": {"x": "independent", "y": "independent"}},
 "layer": [
  {"data": {"name": "band"}, "mark": {"type": "area", "color": "#ff0000", "clip": true},
   "encoding": {
    "x": {"field": "t", "type": "quantitative", "scale": {"domain": [-9.6, 57.55], "nice": false, "zero": false}, "axis": {"orient": "bottom", "values": [0,10,20,30,40,50], "tickSize": -6, "labels": false, "title": null}},
    "y": {"field": "TH0lo", "type": "quantitative", "scale": {"domain": [530, 5560], "nice": false, "zero": false}, "axis": {"orient": "left", "values": [2000,4000], "tickSize": -6, "labelPadding": 16, "format": "d", "title": null}},
    "y2": {"field": "TH0hi"}}},
  {"data": {"name": "lc"}, "mark": {"type": "line", "color": "#ff0000", "strokeWidth": 1, "clip": true},
   "encoding": {
    "x": {"field": "t", "type": "quantitative", "axis": {"orient": "top", "values": [0,10,20,30,40,50], "tickSize": -6, "labels": false, "title": null}},
    "y": {"field": "TH0", "type": "quantitative", "axis": {"orient": "right", "values": [2000,4000], "tickSize": -6, "labels": false, "title": null}}}},
  {"data": {"name": "band"}, "mark": {"type": "point", "opacity": 0},
   "encoding": {
    "x": {"field": "t", "type": "quantitative", "axis": {"orient": "bottom", "values": [-8,-6,-4,-2,2,4,6,8,12,14,16,18,22,24,26,28,32,34,36,38,42,44,46,48,52,54,56], "tickSize": -3, "labels": false, "title": null}},
    "y": {"field": "TH0lo", "type": "quantitative", "axis": {"orient": "left", "values": [1000,3000,5000], "tickSize": -3, "labels": false, "title": null}}}},
  {"data": {"name": "band"}, "mark": {"type": "point", "opacity": 0},
   "encoding": {
    "x": {"field": "t", "type": "quantitative", "axis": {"orient": "top", "values": [-8,-6,-4,-2,2,4,6,8,12,14,16,18,22,24,26,28,32,34,36,38,42,44,46,48,52,54,56], "tickSize": -3, "labels": false, "title": null}},
    "y": {"field": "TH0lo", "type": "quantitative", "axis": {"orient": "right", "values": [1000,3000,5000], "tickSize": -3, "labels": false, "title": null}}}},
  {"data": {"values": [{"label": "TH0"}]}, "mark": {"type": "text", "align": "right", "baseline": "alphabetic", "dy": 15.5, "fontSize": 15.5, "font": "Liberation Sans", "color": "#000"},
   "encoding": {"x": {"datum": 56.6, "type": "quantitative", "axis": null}, "y": {"datum": 5560, "type": "quantitative", "axis": null}, "text": {"field": "label"}}}
 ]
},
{
 "width": 605, "height": 90,
 "resolve": {"axis": {"x": "independent", "y": "independent"}},
 "layer": [
  {"data": {"name": "band"}, "mark": {"type": "area", "color": "#00ff00", "clip": true},
   "encoding": {
    "x": {"field": "t", "type": "quantitative", "scale": {"domain": [-9.6, 57.55], "nice": false, "zero": false}, "axis": {"orient": "bottom", "values": [0,10,20,30,40,50], "tickSize": -6, "labels": false, "title": null}},
    "y": {"field": "TH1lo", "type": "quantitative", "scale": {"domain": [60, 3310], "nice": false, "zero": false}, "axis": {"orient": "left", "values": [1000,2000,3000], "tickSize": -6, "labelPadding": 16, "format": "d", "title": null}},
    "y2": {"field": "TH1hi"}}},
  {"data": {"name": "lc"}, "mark": {"type": "line", "color": "#00ff00", "strokeWidth": 1, "clip": true},
   "encoding": {
    "x": {"field": "t", "type": "quantitative", "axis": {"orient": "top", "values": [0,10,20,30,40,50], "tickSize": -6, "labels": false, "title": null}},
    "y": {"field": "TH1", "type": "quantitative", "axis": {"orient": "right", "values": [1000,2000,3000], "tickSize": -6, "labels": false, "title": null}}}},
  {"data": {"name": "band"}, "mark": {"type": "point", "opacity": 0},
   "encoding": {
    "x": {"field": "t", "type": "quantitative", "axis": {"orient": "bottom", "values": [-8,-6,-4,-2,2,4,6,8,12,14,16,18,22,24,26,28,32,34,36,38,42,44,46,48,52,54,56], "tickSize": -3, "labels": false, "title": null}},
    "y": {"field": "TH1lo", "type": "quantitative", "axis": {"orient": "left", "values": [200,400,600,800,1200,1400,1600,1800,2200,2400,2600,2800,3200], "tickSize": -3, "labels": false, "title": null}}}},
  {"data": {"name": "band"}, "mark": {"type": "point", "opacity": 0},
   "encoding": {
    "x": {"field": "t", "type": "quantitative", "axis": {"orient": "top", "values": [-8,-6,-4,-2,2,4,6,8,12,14,16,18,22,24,26,28,32,34,36,38,42,44,46,48,52,54,56], "tickSize": -3, "labels": false, "title": null}},
    "y": {"field": "TH1lo", "type": "quantitative", "axis": {"orient": "right", "values": [200,400,600,800,1200,1400,1600,1800,2200,2400,2600,2800,3200], "tickSize": -3, "labels": false, "title": null}}}},
  {"data": {"values": [{"label": "TH1"}]}, "mark": {"type": "text", "align": "right", "baseline": "alphabetic", "dy": 15.5, "fontSize": 15.5, "font": "Liberation Sans", "color": "#000"},
   "encoding": {"x": {"datum": 56.4, "type": "quantitative", "axis": null}, "y": {"datum": 3310, "type": "quantitative", "axis": null}, "text": {"field": "label"}}}
 ]
},
{
 "width": 605, "height": 90,
 "resolve": {"axis": {"x": "independent", "y": "independent"}},
 "layer": [
  {"data": {"name": "band"}, "mark": {"type": "area", "color": "#0000ff", "clip": true},
   "encoding": {
    "x": {"field": "t", "type": "quantitative", "scale": {"domain": [-9.6, 57.55], "nice": false, "zero": false}, "axis": {"orient": "bottom", "values": [0,10,20,30,40,50], "tickSize": -6, "labels": false, "title": null}},
    "y": {"field": "TH2lo", "type": "quantitative", "scale": {"domain": [30, 1900], "nice": false, "zero": false}, "axis": {"orient": "left", "values": [500,1000,1500], "tickSize": -6, "labelPadding": 16, "format": "d", "title": "Counts/sec", "titlePadding": 11}},
    "y2": {"field": "TH2hi"}}},
  {"data": {"name": "lc"}, "mark": {"type": "line", "color": "#0000ff", "strokeWidth": 1, "clip": true},
   "encoding": {
    "x": {"field": "t", "type": "quantitative", "axis": {"orient": "top", "values": [0,10,20,30,40,50], "tickSize": -6, "labels": false, "title": null}},
    "y": {"field": "TH2", "type": "quantitative", "axis": {"orient": "right", "values": [500,1000,1500], "tickSize": -6, "labels": false, "title": null}}}},
  {"data": {"name": "band"}, "mark": {"type": "point", "opacity": 0},
   "encoding": {
    "x": {"field": "t", "type": "quantitative", "axis": {"orient": "bottom", "values": [-8,-6,-4,-2,2,4,6,8,12,14,16,18,22,24,26,28,32,34,36,38,42,44,46,48,52,54,56], "tickSize": -3, "labels": false, "title": null}},
    "y": {"field": "TH2lo", "type": "quantitative", "axis": {"orient": "left", "values": [100,200,300,400,600,700,800,900,1100,1200,1300,1400,1600,1700,1800], "tickSize": -3, "labels": false, "title": null}}}},
  {"data": {"name": "band"}, "mark": {"type": "point", "opacity": 0},
   "encoding": {
    "x": {"field": "t", "type": "quantitative", "axis": {"orient": "top", "values": [-8,-6,-4,-2,2,4,6,8,12,14,16,18,22,24,26,28,32,34,36,38,42,44,46,48,52,54,56], "tickSize": -3, "labels": false, "title": null}},
    "y": {"field": "TH2lo", "type": "quantitative", "axis": {"orient": "right", "values": [100,200,300,400,600,700,800,900,1100,1200,1300,1400,1600,1700,1800], "tickSize": -3, "labels": false, "title": null}}}},
  {"data": {"values": [{"label": "TH2"}]}, "mark": {"type": "text", "align": "right", "baseline": "alphabetic", "dy": 15.5, "fontSize": 15.5, "font": "Liberation Sans", "color": "#000"},
   "encoding": {"x": {"datum": 56.6, "type": "quantitative", "axis": null}, "y": {"datum": 1900, "type": "quantitative", "axis": null}, "text": {"field": "label"}}}
 ]
},
{
 "width": 605, "height": 90,
 "resolve": {"axis": {"x": "independent", "y": "independent"}},
 "layer": [
  {"data": {"name": "band"}, "mark": {"type": "area", "color": "#00ffff", "clip": true},
   "encoding": {
    "x": {"field": "t", "type": "quantitative", "scale": {"domain": [-9.6, 57.55], "nice": false, "zero": false}, "axis": {"orient": "bottom", "values": [0,10,20,30,40,50], "tickSize": -6, "labels": false, "title": null}},
    "y": {"field": "TH3lo", "type": "quantitative", "scale": {"domain": [315, 2775], "nice": false, "zero": false}, "axis": {"orient": "left", "values": [500,1000,1500,2000,2500], "tickSize": -6, "labelPadding": 16, "format": "d", "title": null}},
    "y2": {"field": "TH3hi"}}},
  {"data": {"name": "lc"}, "mark": {"type": "line", "color": "#00ffff", "strokeWidth": 1, "clip": true},
   "encoding": {
    "x": {"field": "t", "type": "quantitative", "axis": {"orient": "top", "values": [0,10,20,30,40,50], "tickSize": -6, "labels": false, "title": null}},
    "y": {"field": "TH3", "type": "quantitative", "axis": {"orient": "right", "values": [500,1000,1500,2000,2500], "tickSize": -6, "labels": false, "title": null}}}},
  {"data": {"name": "band"}, "mark": {"type": "point", "opacity": 0},
   "encoding": {
    "x": {"field": "t", "type": "quantitative", "axis": {"orient": "bottom", "values": [-8,-6,-4,-2,2,4,6,8,12,14,16,18,22,24,26,28,32,34,36,38,42,44,46,48,52,54,56], "tickSize": -3, "labels": false, "title": null}},
    "y": {"field": "TH3lo", "type": "quantitative", "axis": {"orient": "left", "values": [400,600,700,800,900,1100,1200,1300,1400,1600,1700,1800,1900,2100,2200,2300,2400,2600,2700], "tickSize": -3, "labels": false, "title": null}}}},
  {"data": {"name": "band"}, "mark": {"type": "point", "opacity": 0},
   "encoding": {
    "x": {"field": "t", "type": "quantitative", "axis": {"orient": "top", "values": [-8,-6,-4,-2,2,4,6,8,12,14,16,18,22,24,26,28,32,34,36,38,42,44,46,48,52,54,56], "tickSize": -3, "labels": false, "title": null}},
    "y": {"field": "TH3lo", "type": "quantitative", "axis": {"orient": "right", "values": [400,600,700,800,900,1100,1200,1300,1400,1600,1700,1800,1900,2100,2200,2300,2400,2600,2700], "tickSize": -3, "labels": false, "title": null}}}},
  {"data": {"values": [{"label": "TH3"}]}, "mark": {"type": "text", "align": "right", "baseline": "alphabetic", "dy": 15.5, "fontSize": 15.5, "font": "Liberation Sans", "color": "#000"},
   "encoding": {"x": {"datum": 56.5, "type": "quantitative", "axis": null}, "y": {"datum": 2775, "type": "quantitative", "axis": null}, "text": {"field": "label"}}}
 ]
},
{
 "width": 605, "height": 90,
 "resolve": {"axis": {"x": "independent", "y": "independent"}},
 "layer": [
  {"data": {"name": "band"}, "mark": {"type": "area", "color": "#ff00ff", "clip": true},
   "encoding": {
    "x": {"field": "t", "type": "quantitative", "scale": {"domain": [-9.6, 57.55], "nice": false, "zero": false}, "axis": {"orient": "bottom", "values": [0,10,20,30,40,50], "tickSize": -6, "labelPadding": 9, "title": "Time [sec] 0 = 2008/01/08 06:12:37.574", "titlePadding": 2}},
    "y": {"field": "TH0123lo", "type": "quantitative", "scale": {"domain": [1930, 10570], "nice": false, "zero": false}, "axis": {"orient": "left", "values": [2000,4000,6000,8000,10000], "tickSize": -6, "labelPadding": 16, "format": "d", "labelExpr": "datum.value == 10000 ? '10⁴' : datum.label", "title": null}},
    "y2": {"field": "TH0123hi"}}},
  {"data": {"name": "lc"}, "mark": {"type": "line", "color": "#ff00ff", "strokeWidth": 1, "clip": true},
   "encoding": {
    "x": {"field": "t", "type": "quantitative", "axis": {"orient": "top", "values": [0,10,20,30,40,50], "tickSize": -6, "labels": false, "title": null}},
    "y": {"field": "TH0123", "type": "quantitative", "axis": {"orient": "right", "values": [2000,4000,6000,8000,10000], "tickSize": -6, "labels": false, "title": null}}}},
  {"data": {"name": "band"}, "mark": {"type": "point", "opacity": 0},
   "encoding": {
    "x": {"field": "t", "type": "quantitative", "axis": {"orient": "bottom", "values": [-8,-6,-4,-2,2,4,6,8,12,14,16,18,22,24,26,28,32,34,36,38,42,44,46,48,52,54,56], "tickSize": -3, "labels": false, "title": null}},
    "y": {"field": "TH0123lo", "type": "quantitative", "axis": {"orient": "left", "values": [3000,5000,7000,9000], "tickSize": -3, "labels": false, "title": null}}}},
  {"data": {"name": "band"}, "mark": {"type": "point", "opacity": 0},
   "encoding": {
    "x": {"field": "t", "type": "quantitative", "axis": {"orient": "top", "values": [-8,-6,-4,-2,2,4,6,8,12,14,16,18,22,24,26,28,32,34,36,38,42,44,46,48,52,54,56], "tickSize": -3, "labels": false, "title": null}},
    "y": {"field": "TH0123lo", "type": "quantitative", "axis": {"orient": "right", "values": [3000,5000,7000,9000], "tickSize": -3, "labels": false, "title": null}}}},
  {"data": {"values": [{"label": "TH0123"}]}, "mark": {"type": "text", "align": "right", "baseline": "alphabetic", "dy": 15.5, "fontSize": 15.5, "font": "Liberation Sans", "color": "#000"},
   "encoding": {"x": {"datum": 57.1, "type": "quantitative", "axis": null}, "y": {"datum": 10570, "type": "quantitative", "axis": null}, "text": {"field": "label"}}}
 ]
}
]
}
